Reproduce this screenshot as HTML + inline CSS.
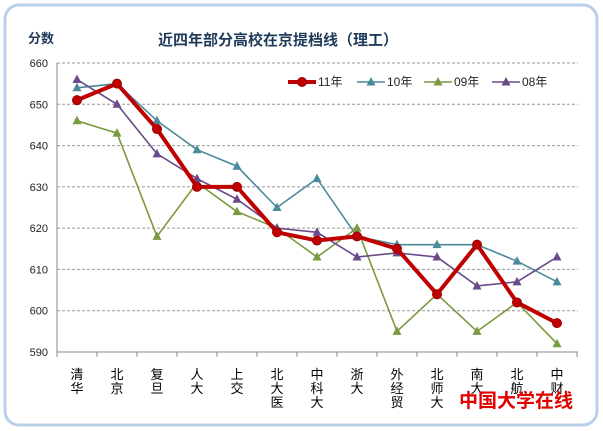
<!DOCTYPE html><html><head><meta charset="utf-8"><style>body{margin:0;background:#fff}svg{display:block}text{font-family:"Liberation Sans","Noto Sans CJK SC",sans-serif}</style></head><body>
<svg width="603" height="431" viewBox="0 0 603 431">
<rect x="5" y="5" width="592" height="420" rx="14" fill="#fff" stroke="#b8d0ea" stroke-width="3"/>
<text x="28" y="43" font-size="13" font-weight="bold" fill="#1f3a5a">分数</text>
<text x="158" y="45" font-size="15" font-weight="bold" fill="#1f3a5a">近四年部分高校在京提档线（理工）</text>
<g id="g"></g>
</svg>
<script>
const s=document.querySelector('svg'),NS='http://www.w3.org/2000/svg';
function el(t,a,txt){const e=document.createElementNS(NS,t);for(const k in a)e.setAttribute(k,a[k]);if(txt!=null)e.textContent=txt;s.appendChild(e);return e}
const X0=57,W=40,Y=v=>63+(660-v)*289/70;
for(let v=590;v<=660;v+=10){const y=Y(v);if(v>590)el('line',{x1:X0,x2:578,y1:y,y2:y,stroke:'#999','stroke-dasharray':'3,2'});el('text',{x:48,y:y+4,'font-size':11,'text-anchor':'end',fill:'#222'},v)}
el('line',{x1:X0,x2:578,y1:Y(590),y2:Y(590),stroke:'#888'});el('line',{x1:X0,x2:X0,y1:63,y2:Y(590),stroke:'#888'});
for(let i=0;i<=13;i++)el('line',{x1:X0+i*W,x2:X0+i*W,y1:Y(590),y2:Y(590)+5,stroke:'#888'});
const cats=['清华','北京','复旦','人大','上交','北大医','中科大','浙大','外经贸','北师大','南大','北航','中财'];
cats.forEach((c,i)=>[...c].forEach((ch,j)=>el('text',{x:X0+20+i*W,y:379+j*14,'font-size':13,'text-anchor':'middle',fill:'#000'},ch)));
const d={
'10年':['#4a8a9a',[654,655,646,639,635,625,632,618,616,616,616,612,607],'t',1.6],
'09年':['#7a9a40',[646,643,618,631,624,620,613,620,595,604,595,602,592],'t',1.6],
'08年':['#6a4a8a',[656,650,638,632,627,620,619,613,614,613,606,607,613],'t',1.6],
'11年':['#c00000',[651,655,644,630,630,619,617,618,615,604,616,602,597],'c',4]};
const tri=(x,y,c)=>el('polygon',{points:`${x},${y-5} ${x-4.5},${y+3.5} ${x+4.5},${y+3.5}`,fill:c});
const mk=(k,x,y)=>{const [c,,m]=d[k];m=='c'?el('circle',{cx:x,cy:y,r:4.5,fill:c,stroke:'#900'}):tri(x,y,c)};
for(const k of ['10年','09年','08年','11年']){const [c,v,m,w]=d[k];el('polyline',{points:v.map((a,i)=>(X0+20+i*W)+','+Y(a)).join(' '),fill:'none',stroke:c,'stroke-width':w});v.forEach((a,i)=>mk(k,X0+20+i*W,Y(a)))}
[['11年',288],['10年',357],['09年',424],['08年',492]].forEach(([k,x])=>{const [c,,m,w]=d[k];el('line',{x1:x,x2:x+28,y1:82,y2:82,stroke:c,'stroke-width':w});mk(k,x+14,82);el('text',{x:x+30,y:86,'font-size':12,fill:'#222'},k)});
el('text',{x:459,y:407,'font-size':19,'font-weight':'bold',fill:'#e00000','font-family':'"Noto Serif CJK SC",serif'},'中国大学在线');
</script></body></html>
